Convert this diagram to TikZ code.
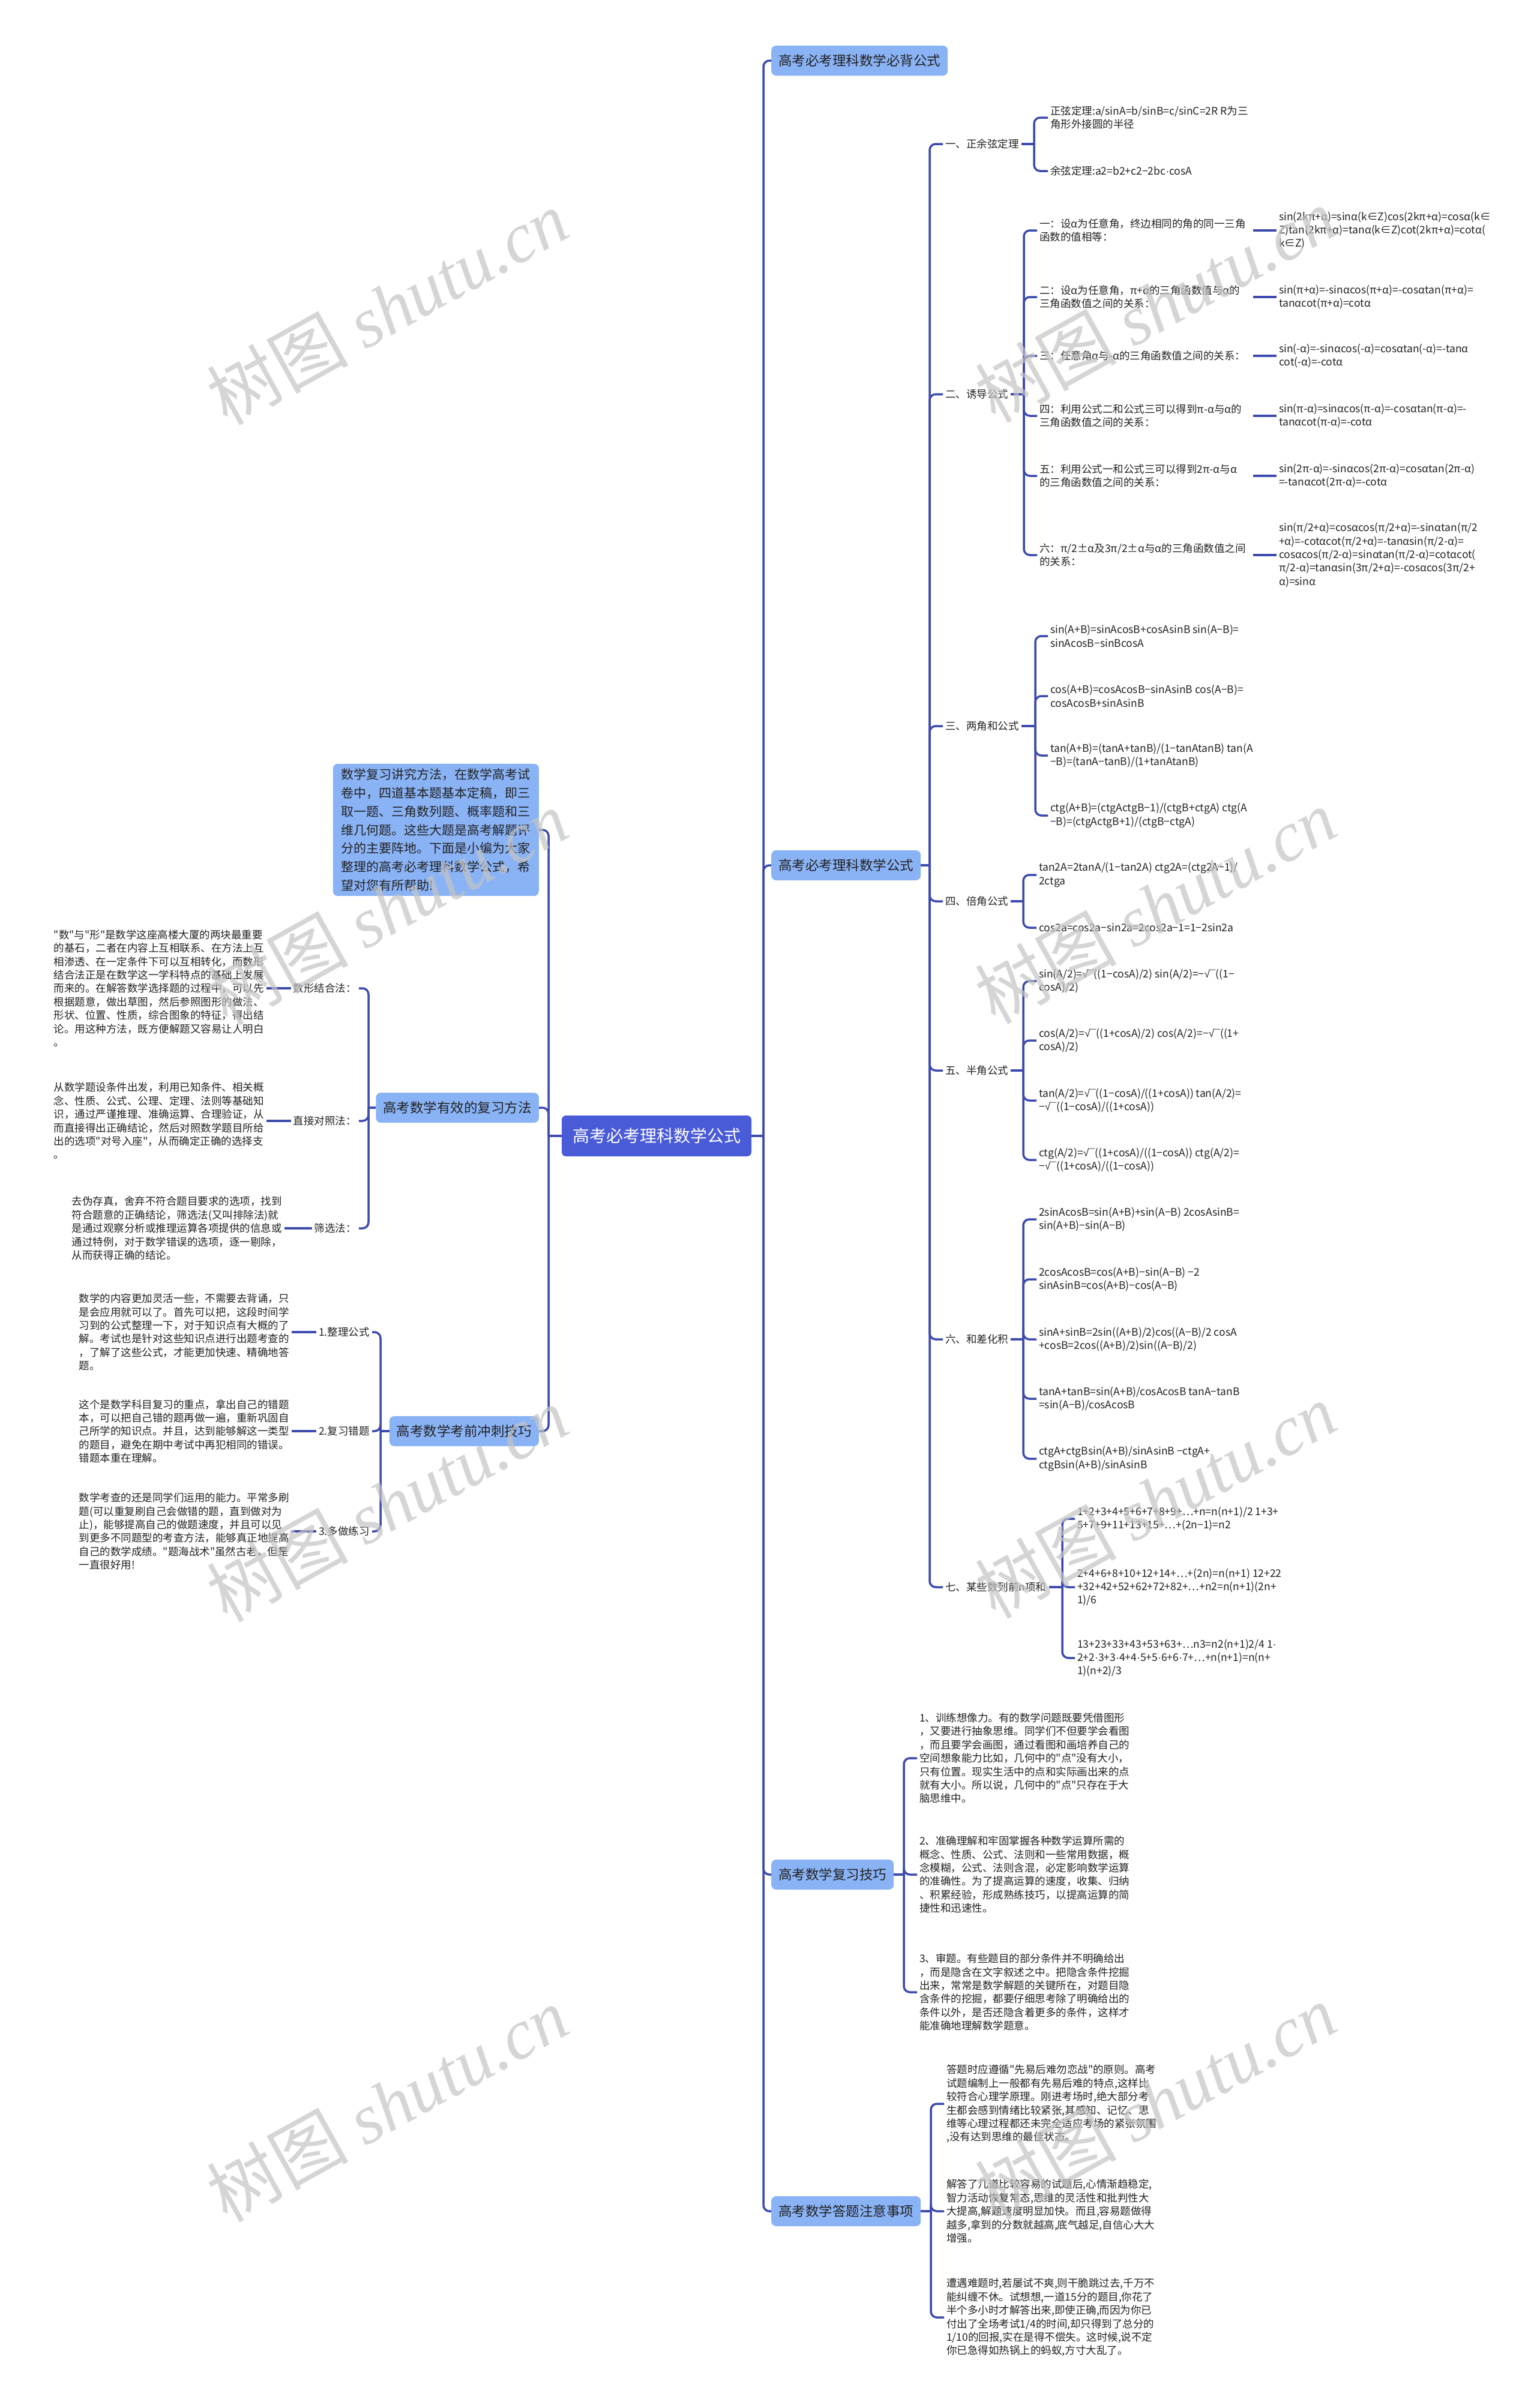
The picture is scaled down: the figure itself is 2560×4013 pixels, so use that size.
\documentclass[tikz,border=0pt]{standalone}
\usepackage{fontspec}
\setmainfont{Noto Sans CJK SC}[Ligatures=TeXOff]
\newfontfamily\wmserif{Liberation Serif}
\newfontfamily\latf{Liberation Sans}
\newcommand{\mysqrt}{{\latf √¯}}
\newcommand{\mydot}{{\latf ·}}
\definecolor{lineblue}{HTML}{3D4BAE}
\definecolor{rootblue}{HTML}{4A5BD8}
\definecolor{boxblue}{HTML}{8AB3F6}
\definecolor{txtdark}{HTML}{222222}
\definecolor{wmgray}{HTML}{C4C4C4}
\begin{document}
\begin{tikzpicture}[x=1pt,y=-1pt,
 conn/.style={draw=lineblue,line width=3.5pt,rounded corners=10pt},
 rootbox/.style={fill=rootblue,text=white,rounded corners=7pt,font=\fontsize{28}{34}\selectfont,inner xsep=18pt,minimum height=68pt},
 topicbox/.style={fill=boxblue,text=txtdark,rounded corners=8pt,font=\fontsize{22.5}{28}\selectfont,inner xsep=12pt,minimum height=50pt},
 introbox/.style={fill=boxblue,text=txtdark,rounded corners=8pt,font=\fontsize{21}{30.8}\selectfont,align=left,inner xsep=14pt,inner ysep=8pt},
 leaf/.style={font=\fontsize{17.5}{22.4}\selectfont,text=txtdark,align=left,inner xsep=4pt,inner ysep=2pt},
 wleaf/.style={leaf,text width=352pt},
 wmark/.style={text=wmgray,opacity=0.7,rotate=29,font=\fontsize{118}{130}\selectfont}
]
\fill[white] (0,0) rectangle (2560,4013);
\useasboundingbox (0,0) rectangle (2560,4013);

% root
\node[rootbox] (root) at (1094,1893) {高考必考理科数学公式};

% right topics
\node[topicbox,anchor=west] (tA) at (1285,101) {高考必考理科数学必背公式};
\node[topicbox,anchor=west] (tB) at (1285,1442) {高考必考理科数学公式};
\node[topicbox,anchor=west] (tC) at (1285,3124) {高考数学复习技巧};
\node[topicbox,anchor=west] (tD) at (1285,3685) {高考数学答题注意事项};

% left topics
\node[introbox,anchor=east] (tE) at (898,1383) {数学复习讲究方法，在数学高考试\\卷中，四道基本题基本定稿，即三\\取一题、三角数列题、概率题和三\\维几何题。这些大题是高考解题评\\分的主要阵地。下面是小编为大家\\整理的高考必考理科数学公式，希\\望对您有所帮助!};
\node[topicbox,anchor=east] (tF) at (898,1846) {高考数学有效的复习方法};
\node[topicbox,anchor=east] (tG) at (898,2385) {高考数学考前冲刺技巧};

\coordinate (jR) at (1272,1893);
\coordinate (jL) at (914,1893);
\draw[conn] (root.east) -- (jR);
\foreach \n in {tA,tB,tC,tD} \draw[conn] (jR) |- (\n.west);
\draw[conn] (root.west) -- (jL);
\foreach \n in {tE,tF,tG} \draw[conn] (jL) |- (\n.east);

% ===== formula branch =====
\node[leaf,anchor=west] (l2a) at (1571,240) {一、正余弦定理};
\node[leaf,anchor=west] (l2b) at (1571,657) {二、诱导公式};
\node[leaf,anchor=west] (l2c) at (1571,1210) {三、两角和公式};
\node[leaf,anchor=west] (l2d) at (1571,1502) {四、倍角公式};
\node[leaf,anchor=west] (l2e) at (1571,1784) {五、半角公式};
\node[leaf,anchor=west] (l2f) at (1571,2232) {六、和差化积};
\node[leaf,anchor=west] (l2g) at (1571,2645) {七、某些数列前n项和};
\coordinate (jB) at (1549,1442);
\draw[conn] (tB.east) -- (jB);
\foreach \n in {l2a,l2b,l2c,l2d,l2e,l2f,l2g} \draw[conn] (jB) |- (\n.west);

% 一
\node[leaf,anchor=west] (a1) at (1746,196) {正弦定理:a/sinA=b/sinB=c/sinC=2R R为三\\角形外接圆的半径};
\node[leaf,anchor=west] (a2) at (1746,285) {余弦定理:a2=b2+c2−2bc\mydot cosA};
\coordinate (ja) at (1723,240);
\draw[conn] (l2a.east) -- (ja);
\foreach \n in {a1,a2} \draw[conn] (ja) |- (\n.west);

% 二
\node[wleaf,anchor=west] (b1) at (1728,384) {一：设α为任意角，终边相同的角的同一三角\\函数的值相等：};
\node[wleaf,anchor=west] (b2) at (1728,495) {二：设α为任意角，π+α的三角函数值与α的\\三角函数值之间的关系：};
\node[wleaf,anchor=west] (b3) at (1728,593) {三：任意角α与-α的三角函数值之间的关系：};
\node[wleaf,anchor=west] (b4) at (1728,693) {四：利用公式二和公式三可以得到π-α与α的\\三角函数值之间的关系：};
\node[wleaf,anchor=west] (b5) at (1728,793) {五：利用公式一和公式三可以得到2π-α与α\\的三角函数值之间的关系：};
\node[wleaf,anchor=west] (b6) at (1728,925) {六：π/2±α及3π/2±α与α的三角函数值之间\\的关系：};
\coordinate (jb) at (1706,657);
\draw[conn] (l2b.east) -- (jb);
\foreach \n in {b1,b2,b3,b4,b5,b6} \draw[conn] (jb) |- (\n.west);
\node[leaf,anchor=west] (fb1) at (2127,384) {sin(2kπ+α)=sinα(k∈Z)cos(2kπ+α)=cosα(k∈\\Z)tan(2kπ+α)=tanα(k∈Z)cot(2kπ+α)=cotα(\\k∈Z)};
\node[leaf,anchor=west] (fb2) at (2127,495) {sin(π+α)=-sinαcos(π+α)=-cosαtan(π+α)=\\tanαcot(π+α)=cotα};
\node[leaf,anchor=west] (fb3) at (2127,593) {sin(-α)=-sinαcos(-α)=cosαtan(-α)=-tanα\\cot(-α)=-cotα};
\node[leaf,anchor=west] (fb4) at (2127,693) {sin(π-α)=sinαcos(π-α)=-cosαtan(π-α)=-\\tanαcot(π-α)=-cotα};
\node[leaf,anchor=west] (fb5) at (2127,793) {sin(2π-α)=-sinαcos(2π-α)=cosαtan(2π-α)\\=-tanαcot(2π-α)=-cotα};
\node[leaf,anchor=west] (fb6) at (2127,925) {sin(π/2+α)=cosαcos(π/2+α)=-sinαtan(π/2\\+α)=-cotαcot(π/2+α)=-tanαsin(π/2-α)=\\cosαcos(π/2-α)=sinαtan(π/2-α)=cotαcot(\\π/2-α)=tanαsin(3π/2+α)=-cosαcos(3π/2+\\α)=sinα};
\foreach \n in {1,...,6} \draw[conn] (b\n.east) -- (fb\n.west);

% 三
\node[leaf,anchor=west] (c1) at (1746,1060) {sin(A+B)=sinAcosB+cosAsinB sin(A−B)=\\sinAcosB−sinBcosA};
\node[leaf,anchor=west] (c2) at (1746,1160) {cos(A+B)=cosAcosB−sinAsinB cos(A−B)=\\cosAcosB+sinAsinB};
\node[leaf,anchor=west] (c3) at (1746,1259) {tan(A+B)=(tanA+tanB)/(1−tanAtanB) tan(A\\−B)=(tanA−tanB)/(1+tanAtanB)};
\node[leaf,anchor=west] (c4) at (1746,1359) {ctg(A+B)=(ctgActgB−1)/(ctgB+ctgA) ctg(A\\−B)=(ctgActgB+1)/(ctgB−ctgA)};
\coordinate (jc) at (1725,1210);
\draw[conn] (l2c.east) -- (jc);
\foreach \n in {c1,c2,c3,c4} \draw[conn] (jc) |- (\n.west);

% 四
\node[leaf,anchor=west] (d1) at (1727,1458) {tan2A=2tanA/(1−tan2A) ctg2A=(ctg2A−1)/\\2ctga};
\node[leaf,anchor=west] (d2) at (1727,1546) {cos2a=cos2a−sin2a=2cos2a−1=1−2sin2a};
\coordinate (jd) at (1705,1502);
\draw[conn] (l2d.east) -- (jd);
\foreach \n in {d1,d2} \draw[conn] (jd) |- (\n.west);

% 五
\node[leaf,anchor=west] (e1) at (1727,1635) {sin(A/2)=\mysqrt((1−cosA)/2) sin(A/2)=−\mysqrt((1−\\cosA)/2)};
\node[leaf,anchor=west] (e2) at (1727,1734) {cos(A/2)=\mysqrt((1+cosA)/2) cos(A/2)=−\mysqrt((1+\\cosA)/2)};
\node[leaf,anchor=west] (e3) at (1727,1834) {tan(A/2)=\mysqrt((1−cosA)/((1+cosA)) tan(A/2)=\\−\mysqrt((1−cosA)/((1+cosA))};
\node[leaf,anchor=west] (e4) at (1727,1933) {ctg(A/2)=\mysqrt((1+cosA)/((1−cosA)) ctg(A/2)=\\−\mysqrt((1+cosA)/((1−cosA))};
\coordinate (je) at (1705,1784);
\draw[conn] (l2e.east) -- (je);
\foreach \n in {e1,e2,e3,e4} \draw[conn] (je) |- (\n.west);

% 六
\node[leaf,anchor=west] (f1) at (1727,2032) {2sinAcosB=sin(A+B)+sin(A−B) 2cosAsinB=\\sin(A+B)−sin(A−B)};
\node[leaf,anchor=west] (f2) at (1727,2132) {2cosAcosB=cos(A+B)−sin(A−B) −2\\sinAsinB=cos(A+B)−cos(A−B)};
\node[leaf,anchor=west] (f3) at (1727,2232) {sinA+sinB=2sin((A+B)/2)cos((A−B)/2 cosA\\+cosB=2cos((A+B)/2)sin((A−B)/2)};
\node[leaf,anchor=west] (f4) at (1727,2331) {tanA+tanB=sin(A+B)/cosAcosB tanA−tanB\\=sin(A−B)/cosAcosB};
\node[leaf,anchor=west] (f5) at (1727,2431) {ctgA+ctgBsin(A+B)/sinAsinB −ctgA+\\ctgBsin(A+B)/sinAsinB};
\coordinate (jf) at (1705,2232);
\draw[conn] (l2f.east) -- (jf);
\foreach \n in {f1,f2,f3,f4,f5} \draw[conn] (jf) |- (\n.west);

% 七
\node[leaf,anchor=west] (g1) at (1791,2531) {1+2+3+4+5+6+7+8+9+…+n=n(n+1)/2 1+3+\\5+7+9+11+13+15+…+(2n−1)=n2};
\node[leaf,anchor=west] (g2) at (1791,2645) {2+4+6+8+10+12+14+…+(2n)=n(n+1) 12+22\\+32+42+52+62+72+82+…+n2=n(n+1)(2n+\\1)/6};
\node[leaf,anchor=west] (g3) at (1791,2763) {13+23+33+43+53+63+…n3=n2(n+1)2/4 1\mydot\\2+2\mydot 3+3\mydot 4+4\mydot 5+5\mydot 6+6\mydot 7+…+n(n+1)=n(n+\\1)(n+2)/3};
\coordinate (jg) at (1770,2645);
\draw[conn] (l2g.east) -- (jg);
\foreach \n in {g1,g2,g3} \draw[conn] (jg) |- (\n.west);

% ===== 复习技巧 =====
\node[leaf,anchor=west] (k1) at (1528,2930) {1、训练想像力。有的数学问题既要凭借图形\\，又要进行抽象思维。同学们不但要学会看图\\，而且要学会画图，通过看图和画培养自己的\\空间想象能力比如，几何中的"点"没有大小，\\只有位置。现实生活中的点和实际画出来的点\\就有大小。所以说，几何中的"点"只存在于大\\脑思维中。};
\node[leaf,anchor=west] (k2) at (1528,3124) {2、准确理解和牢固掌握各种数学运算所需的\\概念、性质、公式、法则和一些常用数据，概\\念模糊，公式、法则含混，必定影响数学运算\\的准确性。为了提高运算的速度，收集、归纳\\、积累经验，形成熟练技巧，以提高运算的简\\捷性和迅速性。};
\node[leaf,anchor=west] (k3) at (1528,3320) {3、审题。有些题目的部分条件并不明确给出\\，而是隐含在文字叙述之中。把隐含条件挖掘\\出来，常常是数学解题的关键所在，对题目隐\\含条件的挖掘，都要仔细思考除了明确给出的\\条件以外，是否还隐含着更多的条件，这样才\\能准确地理解数学题意。};
\coordinate (jk) at (1506,3124);
\draw[conn] (tC.east) -- (jk);
\foreach \n in {k1,k2,k3} \draw[conn] (jk) |- (\n.west);

% ===== 答题注意事项 =====
\node[leaf,anchor=west] (n1) at (1573,3506) {答题时应遵循"先易后难勿恋战"的原则。高考\\试题编制上一般都有先易后难的特点,这样比\\较符合心理学原理。刚进考场时,绝大部分考\\生都会感到情绪比较紧张,其感知、记忆、思\\维等心理过程都还未完全适应考场的紧张氛围\\,没有达到思维的最佳状态。};
\node[leaf,anchor=west] (n2) at (1573,3685) {解答了几道比较容易的试题后,心情渐趋稳定,\\智力活动恢复常态,思维的灵活性和批判性大\\大提高,解题速度明显加快。而且,容易题做得\\越多,拿到的分数就越高,底气越足,自信心大大\\增强。};
\node[leaf,anchor=west] (n3) at (1573,3862) {遭遇难题时,若屡试不爽,则干脆跳过去,千万不\\能纠缠不休。试想想,一道15分的题目,你花了\\半个多小时才解答出来,即使正确,而因为你已\\付出了全场考试1/4的时间,却只得到了总分的\\1/10的回报,实在是得不偿失。这时候,说不定\\你已急得如热锅上的蚂蚁,方寸大乱了。};
\coordinate (jn) at (1551,3685);
\draw[conn] (tD.east) -- (jn);
\foreach \n in {n1,n2,n3} \draw[conn] (jn) |- (\n.west);

% ===== 有效的复习方法 =====
\node[leaf,anchor=east] (mA) at (598,1647) {数形结合法：};
\node[leaf,anchor=east] (mB) at (598,1868) {直接对照法：};
\node[leaf,anchor=east] (mC) at (598,2047) {筛选法：};
\coordinate (jm) at (614,1846);
\draw[conn] (tF.west) -- (jm);
\foreach \n in {mA,mB,mC} \draw[conn] (jm) |- (\n.east);
\node[leaf,anchor=east] (xA) at (444,1647) {"数"与"形"是数学这座高楼大厦的两块最重要\\的基石，二者在内容上互相联系、在方法上互\\相渗透、在一定条件下可以互相转化，而数形\\结合法正是在数学这一学科特点的基础上发展\\而来的。在解答数学选择题的过程中，可以先\\根据题意，做出草图，然后参照图形的做法、\\形状、位置、性质，综合图象的特征，得出结\\论。用这种方法，既方便解题又容易让人明白\\。};
\node[leaf,anchor=east] (xB) at (444,1868) {从数学题设条件出发，利用已知条件、相关概\\念、性质、公式、公理、定理、法则等基础知\\识，通过严谨推理、准确运算、合理验证，从\\而直接得出正确结论，然后对照数学题目所给\\出的选项"对号入座"，从而确定正确的选择支\\。};
\node[leaf,anchor=east] (xC) at (474,2047) {去伪存真，舍弃不符合题目要求的选项，找到\\符合题意的正确结论，筛选法(又叫排除法)就\\是通过观察分析或推理运算各项提供的信息或\\通过特例，对于数学错误的选项，逐一剔除，\\从而获得正确的结论。};
\draw[conn] (mA.west) -- (xA.east);
\draw[conn] (mB.west) -- (xB.east);
\draw[conn] (mC.west) -- (xC.east);

% ===== 考前冲刺技巧 =====
\node[leaf,anchor=east] (pA) at (620,2220) {1.整理公式};
\node[leaf,anchor=east] (pB) at (620,2385) {2.复习错题};
\node[leaf,anchor=east] (pC) at (620,2552) {3.多做练习};
\coordinate (jp) at (634,2385);
\draw[conn] (tG.west) -- (jp);
\foreach \n in {pA,pB,pC} \draw[conn] (jp) |- (\n.east);
\node[leaf,anchor=east] (yA) at (486,2220) {数学的内容更加灵活一些，不需要去背诵，只\\是会应用就可以了。首先可以把，这段时间学\\习到的公式整理一下，对于知识点有大概的了\\解。考试也是针对这些知识点进行出题考查的\\，了解了这些公式，才能更加快速、精确地答\\题。};
\node[leaf,anchor=east] (yB) at (486,2385) {这个是数学科目复习的重点，拿出自己的错题\\本，可以把自己错的题再做一遍，重新巩固自\\己所学的知识点。并且，达到能够解这一类型\\的题目，避免在期中考试中再犯相同的错误。\\错题本重在理解。};
\node[leaf,anchor=east] (yC) at (486,2552) {数学考查的还是同学们运用的能力。平常多刷\\题(可以重复刷自己会做错的题，直到做对为\\止)，能够提高自己的做题速度，并且可以见\\到更多不同题型的考查方法，能够真正地提高\\自己的数学成绩。"题海战术"虽然古老，但是\\一直很好用!};
\draw[conn] (pA.west) -- (yA.east);
\draw[conn] (pB.west) -- (yB.east);
\draw[conn] (pC.west) -- (yC.east);

% ===== watermarks =====
\node[wmark] (wm1) at (645,512) {树图 {\wmserif\itshape shutu.cn}};
\node[wmark] (wm2) at (1925,508) {树图 {\wmserif\itshape shutu.cn}};
\node[wmark] (wm3) at (645,1512) {树图 {\wmserif\itshape shutu.cn}};
\node[wmark] (wm4) at (1925,1510) {树图 {\wmserif\itshape shutu.cn}};
\node[wmark] (wm5) at (645,2506) {树图 {\wmserif\itshape shutu.cn}};
\node[wmark] (wm6) at (1925,2500) {树图 {\wmserif\itshape shutu.cn}};
\node[wmark] (wm7) at (645,3506) {树图 {\wmserif\itshape shutu.cn}};
\node[wmark] (wm8) at (1925,3502) {树图 {\wmserif\itshape shutu.cn}};
\end{tikzpicture}
\end{document}
